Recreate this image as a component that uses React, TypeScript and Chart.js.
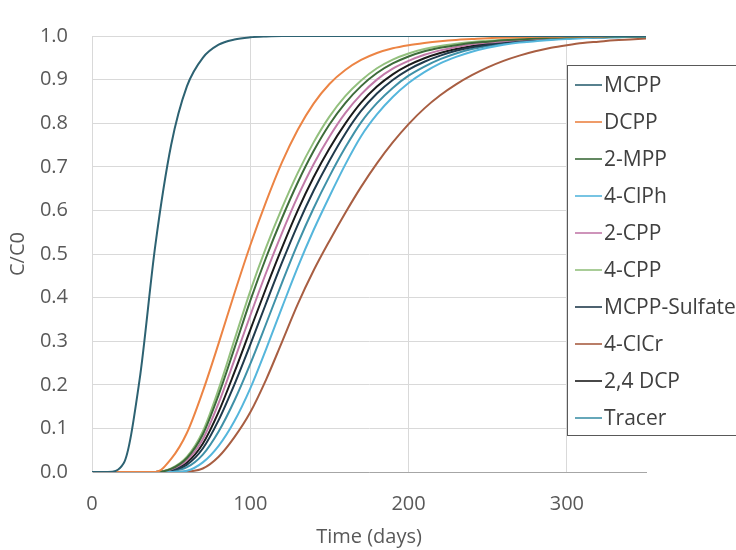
import { useEffect, useRef } from "react";
import Chart from "chart.js/auto";

const days = [0, 10, 20, 30, 40, 50, 60, 70, 80, 90, 100, 110, 120, 130, 140, 150, 160, 170, 180, 190, 200, 210, 220, 230, 240, 250, 260, 270, 280, 290, 300, 310, 320, 330, 340, 350];

const seriesNames = ["MCPP", "DCPP", "2-MPP", "4-ClPh", "2-CPP", "4-CPP", "MCPP-Sulfate", "4-ClCr", "2,4 DCP", "Tracer"];
const seriesColors = ["#2d6272", "#ec8444", "#3d6b3a", "#55b6dc", "#c27aa9", "#93c07e", "#203a4c", "#a85e42", "#1a1a1a", "#3f91a8"];

const mcpp = [0, 0, 0.02, 0.21, 0.52, 0.75, 0.885, 0.95, 0.98, 0.992, 0.997, 0.999, 1, 1, 1, 1, 1, 1, 1, 1, 1, 1, 1, 1, 1, 1, 1, 1, 1, 1, 1, 1, 1, 1, 1, 1];
const dcpp = [0, 0, 0, 0, 0, 0.03, 0.09, 0.185, 0.295, 0.41, 0.52, 0.62, 0.71, 0.785, 0.845, 0.89, 0.922, 0.945, 0.961, 0.972, 0.979, 0.984, 0.988, 0.991, 0.993, 0.995, 0.996, 0.997, 0.998, 0.998, 0.999, 0.999, 0.999, 1, 1, 1];
const mpp2 = [0, 0, 0, 0, 0, 0.007, 0.032, 0.086, 0.177, 0.284, 0.393, 0.492, 0.582, 0.664, 0.736, 0.797, 0.846, 0.885, 0.915, 0.937, 0.953, 0.965, 0.973, 0.979, 0.984, 0.987, 0.99, 0.992, 0.994, 0.996, 0.997, 0.998, 0.998, 0.999, 0.999, 0.999];
const clph4 = [0, 0, 0, 0, 0, 0, 0.003, 0.022, 0.06, 0.117, 0.192, 0.282, 0.377, 0.47, 0.555, 0.632, 0.705, 0.77, 0.82, 0.86, 0.892, 0.917, 0.937, 0.952, 0.964, 0.973, 0.98, 0.985, 0.988, 0.991, 0.993, 0.995, 0.996, 0.997, 0.998, 0.998];
const cpp2 = [0, 0, 0, 0, 0, 0.006, 0.027, 0.075, 0.158, 0.257, 0.359, 0.457, 0.548, 0.632, 0.706, 0.769, 0.823, 0.866, 0.9, 0.925, 0.943, 0.957, 0.967, 0.975, 0.981, 0.985, 0.988, 0.991, 0.993, 0.995, 0.996, 0.997, 0.998, 0.998, 0.999, 0.999];
const cpp4 = [0, 0, 0, 0, 0, 0.008, 0.035, 0.093, 0.19, 0.303, 0.415, 0.515, 0.605, 0.686, 0.756, 0.815, 0.862, 0.898, 0.926, 0.946, 0.96, 0.97, 0.977, 0.982, 0.986, 0.989, 0.991, 0.993, 0.995, 0.996, 0.997, 0.998, 0.998, 0.999, 0.999, 0.999];
const mcppSulfate = [0, 0, 0, 0, 0, 0.004, 0.017, 0.054, 0.119, 0.201, 0.292, 0.387, 0.48, 0.567, 0.645, 0.714, 0.776, 0.828, 0.868, 0.899, 0.923, 0.941, 0.955, 0.966, 0.974, 0.98, 0.985, 0.988, 0.991, 0.993, 0.995, 0.996, 0.997, 0.998, 0.998, 0.998];
const clcr4 = [0, 0, 0, 0, 0, 0, 0.001, 0.008, 0.035, 0.08, 0.137, 0.212, 0.298, 0.385, 0.462, 0.53, 0.594, 0.654, 0.708, 0.756, 0.798, 0.834, 0.864, 0.889, 0.91, 0.928, 0.943, 0.955, 0.965, 0.973, 0.979, 0.984, 0.987, 0.99, 0.992, 0.994];
const dcp24 = [0, 0, 0, 0, 0, 0.005, 0.022, 0.065, 0.138, 0.229, 0.326, 0.422, 0.514, 0.6, 0.676, 0.742, 0.799, 0.847, 0.884, 0.912, 0.933, 0.949, 0.961, 0.97, 0.977, 0.983, 0.987, 0.99, 0.992, 0.994, 0.995, 0.997, 0.997, 0.998, 0.999, 0.999];
const tracer = [0, 0, 0, 0, 0, 0.002, 0.011, 0.04, 0.093, 0.164, 0.248, 0.34, 0.434, 0.524, 0.605, 0.678, 0.744, 0.802, 0.846, 0.881, 0.909, 0.93, 0.947, 0.96, 0.97, 0.977, 0.983, 0.987, 0.99, 0.992, 0.994, 0.996, 0.997, 0.997, 0.998, 0.998];

const seriesValues = [mcpp, dcpp, mpp2, clph4, cpp2, cpp4, mcppSulfate, clcr4, dcp24, tracer];

const xTitle = "Time (days)";
const yTitle = "C/C0";

const FONT = '"Open Sans", "DejaVu Sans", sans-serif';

export default function App() {
  const ref = useRef<HTMLCanvasElement>(null);

  useEffect(() => {
    const canvas = ref.current;
    if (!canvas) return;

    const legendBox = {
      id: "legendBox",
      afterDraw(chart: any) {
        const ctx = chart.ctx;
        ctx.save();
        const left = 567.5;
        const top = 65.5;
        const bottom = 435.5;
        ctx.fillStyle = "#ffffff";
        ctx.fillRect(left, top, 200, bottom - top);
        ctx.strokeStyle = "#595959";
        ctx.lineWidth = 1;
        ctx.strokeRect(left, top, 200, bottom - top);
        ctx.font = `21px ${FONT}`;
        ctx.textBaseline = "middle";
        ctx.textAlign = "left";
        seriesNames.forEach((name, i) => {
          const y = 85 + 37 * i;
          ctx.strokeStyle = seriesColors[i];
          ctx.lineWidth = 1.6;
          ctx.beginPath();
          ctx.moveTo(575, y);
          ctx.lineTo(602, y);
          ctx.stroke();
          ctx.fillStyle = "#404040";
          ctx.fillText(name, 604, y + 1);
        });
        ctx.restore();
      },
    };

    const chart = new Chart(canvas, {
      type: "line",
      data: {
        datasets: seriesNames.map((name, i) => ({
          label: name,
          data: days.map((d, j) => ({ x: d, y: seriesValues[i][j] })),
          borderColor: seriesColors[i],
          backgroundColor: seriesColors[i],
          borderWidth: 2,
          pointRadius: 0,
          fill: false,
          cubicInterpolationMode: "monotone" as const,
        })),
      },
      options: {
        animation: false,
        responsive: false,
        layout: { padding: { left: 0, right: 90, top: 22, bottom: 0 } },
        plugins: {
          legend: { display: false },
          tooltip: { enabled: false },
        },
        scales: {
          x: {
            type: "linear",
            min: 0,
            max: 350,
            ticks: {
              stepSize: 100,
              includeBounds: false,
              padding: 20,
              color: "#595959",
              maxRotation: 0,
              font: { family: FONT, size: 20 },
            },
            grid: { color: "#d9d9d9", drawTicks: false },
            border: { color: "#a6a6a6" },
            title: {
              display: true,
              text: xTitle,
              color: "#595959",
              font: { family: FONT, size: 20 },
              padding: { top: 0, bottom: 1 },
            },
            afterFit(scale: any) {
              scale.height = 78;
            },
          },
          y: {
            min: 0,
            max: 1,
            ticks: {
              stepSize: 0.1,
              padding: 24,
              color: "#595959",
              font: { family: FONT, size: 20 },
              callback: (v: any) => Number(v).toFixed(1),
            },
            grid: { color: "#d9d9d9", drawTicks: false },
            border: { color: "#d9d9d9" },
            title: {
              display: true,
              text: yTitle,
              color: "#595959",
              font: { family: FONT, size: 20 },
              padding: { top: 6, bottom: 0 },
            },
            afterFit(scale: any) {
              scale.width = 92;
            },
          },
        },
      },
      plugins: [legendBox],
    });

    return () => chart.destroy();
  }, []);

  return (
    <div style={{ position: "absolute", left: 0, top: 0, width: 736, height: 550, background: "#fff" }}>
      <canvas ref={ref} width={736} height={550} style={{ width: 736, height: 550, display: "block" }} />
    </div>
  );
}
